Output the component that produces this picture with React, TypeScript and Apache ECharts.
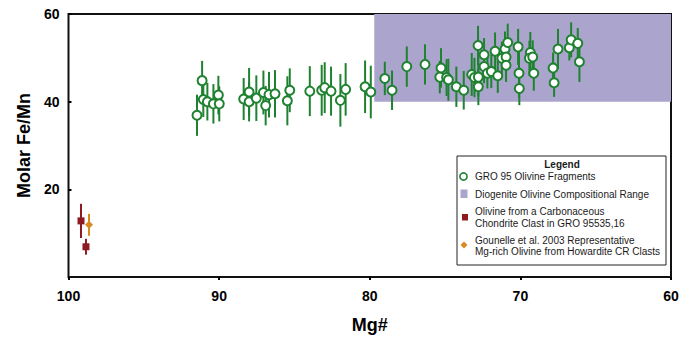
import React, { useEffect, useRef } from "react";
import * as echarts from "echarts";

// GRO 95 olivine fragments: Mg#, molar Fe/Mn, error (±)
const groMg = [
  91.47, 91.13, 91.05, 90.78, 90.38, 90.05, 89.99, 88.37, 88.01, 88.01, 87.53, 87.06, 86.91,
  86.69, 86.29, 85.47, 85.31, 83.98, 83.19, 82.99, 82.57, 81.95, 81.6, 80.31, 79.93, 79.0,
  78.52, 77.54, 76.33, 75.27, 75.35, 74.9, 74.78, 74.25, 73.76, 73.23, 73.05, 72.81, 72.79,
  72.79, 72.41, 72.41, 72.19, 71.93, 71.68, 71.5, 71.23, 71.02, 70.95, 70.95, 70.84, 70.15,
  70.09, 70.07, 69.34, 69.4, 69.18, 69.11, 67.83, 67.76, 67.5, 66.75, 66.63, 66.19, 66.08,
];
const groFeMn = [
  36.9, 44.8, 40.5, 40.0, 39.5, 41.5, 39.5, 40.6, 42.2, 40.0, 40.8, 42.1, 39.1, 41.6, 41.8,
  40.2, 42.6, 42.4, 42.6, 43.2, 42.4, 40.3, 42.8, 43.4, 42.2, 45.3, 42.6, 48.0, 48.5, 47.7,
  45.6, 45.5, 45.0, 43.4, 42.6, 46.2, 45.5, 52.8, 45.6, 43.4, 50.7, 48.0, 46.5, 46.9, 51.5,
  45.9, 49.9, 52.0, 50.2, 48.3, 53.5, 52.5, 46.5, 43.0, 51.2, 49.9, 50.2, 46.5, 47.7, 44.3,
  52.0, 52.3, 54.1, 53.3, 49.1,
];
const groErr = [
  4.7, 4.5, 4.0, 4.3, 4.5, 4.4, 4.0, 4.8, 5.5, 4.5, 5.2, 5.0, 4.5, 5.2, 5.4, 5.6, 5.0, 5.7,
  5.8, 5.8, 5.6, 6.0, 6.0, 6.0, 6.0, 3.8, 4.5, 4.6, 4.6, 4.5, 3.7, 4.2, 4.8, 4.6, 4.4, 4.9,
  4.5, 4.5, 4.4, 4.2, 3.8, 3.8, 3.5, 3.8, 4.3, 3.9, 3.8, 4.0, 3.5, 3.8, 4.3, 4.1, 5.6, 3.8,
  4.7, 4.0, 3.8, 4.0, 3.5, 3.2, 4.6, 2.9, 4.0, 3.5, 4.6,
];

// Carbonaceous chondrite clast olivine
const ccMg = [99.17, 98.84];
const ccFeMn = [12.8, 6.9];
const ccErr = [3.9, 1.8];

// Gounelle et al. 2003
const gouMg = [98.64];
const gouFeMn = [11.9];
const gouErr = [2.5];

// Diogenite olivine compositional range [MgLow, MgHigh, FeMnLow, FeMnHigh]
const diogeniteRange = [60, 79.7, 40, 60];

const xTicks = [60, 70, 80, 90, 100];
const yTicks = [0, 20, 40, 60];

const legendTitle = "Legend";
const legendLabels = [
  "GRO 95 Olivine Fragments",
  "Diogenite Olivine Compositional Range",
  "Olivine from a Carbonaceous\nChondrite Clast in GRO 95535,16",
  "Gounelle et al. 2003 Representative\nMg-rich Olivine from Howardite CR Clasts",
];

const GREEN = "#1f8230";
const PURPLE = "#aba5cd";
const RED = "#8e1a22";
const ORANGE = "#d88a22";
const FONT = "'Liberation Sans', Arial, Helvetica, sans-serif";

function errSeries(mg: number[], v: number[], e: number[], color: string) {
  return {
    type: "custom",
    z: 3,
    silent: true,
    data: mg.map((m, i) => [m, v[i] - e[i], v[i] + e[i]]),
    renderItem: (params: any, api: any) => {
      const lo = api.coord([api.value(0), api.value(1)]);
      const hi = api.coord([api.value(0), api.value(2)]);
      return {
        type: "line",
        shape: { x1: lo[0], y1: lo[1], x2: hi[0], y2: hi[1] },
        style: { stroke: color, lineWidth: 2 },
      };
    },
  };
}

export default function App() {
  const ref = useRef<HTMLDivElement>(null);
  useEffect(() => {
    if (!ref.current) return;
    const chart = echarts.init(ref.current, undefined, { renderer: "svg" });
    const lx = 457;
    const ly = 156;
    const txt = (x: number, y: number, t: string, extra: any = {}) => ({
      type: "text",
      x,
      y,
      z: 100,
      style: {
        text: t,
        fontFamily: FONT,
        fontSize: 10,
        fill: "#1a1a1a",
        textVerticalAlign: "middle",
        lineHeight: 11.7,
        ...extra,
      },
    });
    chart.setOption({
      animation: false,
      textStyle: { fontFamily: FONT },
      grid: {
        left: 68.5,
        right: 24,
        top: 14,
        bottom: 50,
        show: true,
        borderColor: "#111",
        borderWidth: 2,
        backgroundColor: "transparent",
      },
      xAxis: {
        type: "value",
        min: xTicks[0],
        max: xTicks[xTicks.length - 1],
        interval: 10,
        inverse: true,
        name: "Mg#",
        nameLocation: "middle",
        nameGap: 39,
        nameTextStyle: { fontFamily: FONT, fontSize: 18, fontWeight: "bold", color: "#000" },
        splitLine: { show: false },
        axisLine: { show: false },
        axisTick: { show: true, inside: false, length: 3, lineStyle: { color: "#000", width: 2 } },
        axisLabel: { fontFamily: FONT, fontSize: 14, fontWeight: "bold", color: "#000", margin: 12 },
      },
      yAxis: {
        type: "value",
        min: yTicks[0],
        max: yTicks[yTicks.length - 1],
        interval: 20,
        name: "Molar Fe/Mn",
        nameLocation: "middle",
        nameGap: 35,
        nameTextStyle: { fontFamily: FONT, fontSize: 18, fontWeight: "bold", color: "#000" },
        splitLine: { show: false },
        axisLine: { show: false },
        axisTick: { show: true, inside: true, length: 3, lineStyle: { color: "#000", width: 2 } },
        axisLabel: {
          fontFamily: FONT,
          fontSize: 14,
          fontWeight: "bold",
          color: "#000",
          margin: 9,
          showMinLabel: false,
        },
      },
      series: [
        {
          type: "custom",
          z: 1,
          silent: true,
          data: [diogeniteRange],
          renderItem: (params: any, api: any) => {
            const p1 = api.coord([api.value(1), api.value(3)]);
            const p2 = api.coord([api.value(0), api.value(2)]);
            return {
              type: "rect",
              shape: { x: p1[0], y: p1[1], width: p2[0] - p1[0], height: p2[1] - p1[1] },
              style: { fill: PURPLE },
            };
          },
        },
        errSeries(groMg, groFeMn, groErr, GREEN),
        errSeries(ccMg, ccFeMn, ccErr, RED),
        errSeries(gouMg, gouFeMn, gouErr, ORANGE),
        {
          type: "scatter",
          z: 5,
          data: groMg.map((m, i) => [m, groFeMn[i]]),
          symbol: "circle",
          symbolSize: 9,
          itemStyle: { color: "#fff", borderColor: GREEN, borderWidth: 2, opacity: 1 },
        },
        {
          type: "scatter",
          z: 5,
          data: ccMg.map((m, i) => [m, ccFeMn[i]]),
          symbol: "rect",
          symbolSize: 7,
          itemStyle: { color: RED, opacity: 1 },
        },
        {
          type: "scatter",
          z: 5,
          data: gouMg.map((m, i) => [m, gouFeMn[i]]),
          symbol: "diamond",
          symbolSize: 8,
          itemStyle: { color: ORANGE, opacity: 1 },
        },
      ],
      graphic: [
        {
          type: "rect",
          z: 99,
          shape: { x: lx, y: ly, width: 209, height: 109 },
          style: { fill: "#fff", stroke: "#222", lineWidth: 1 },
        },
        txt(562, ly + 8, legendTitle, { fontWeight: "bold", textAlign: "center" }),
        {
          type: "circle",
          z: 100,
          shape: { cx: 463.5, cy: 176.5, r: 3.6 },
          style: { fill: "#fff", stroke: GREEN, lineWidth: 1.6 },
        },
        txt(475, 176.5, legendLabels[0]),
        {
          type: "rect",
          z: 100,
          shape: { x: 460.5, y: 189.5, width: 7, height: 8.5 },
          style: { fill: PURPLE },
        },
        txt(475, 194, legendLabels[1]),
        {
          type: "rect",
          z: 100,
          shape: { x: 462, y: 214, width: 6, height: 6.5 },
          style: { fill: RED },
        },
        txt(475, 217.5, legendLabels[2]),
        {
          type: "polygon",
          z: 100,
          shape: { points: [[464, 241.5], [467.5, 245], [464, 248.5], [460.5, 245]] },
          style: { fill: ORANGE },
        },
        txt(475, 246, legendLabels[3]),
      ],
    });
    return () => chart.dispose();
  }, []);
  return (
    <div
      ref={ref}
      style={{ position: "fixed", left: 0, top: 0, width: 695, height: 339, background: "#fff" }}
    />
  );
}
